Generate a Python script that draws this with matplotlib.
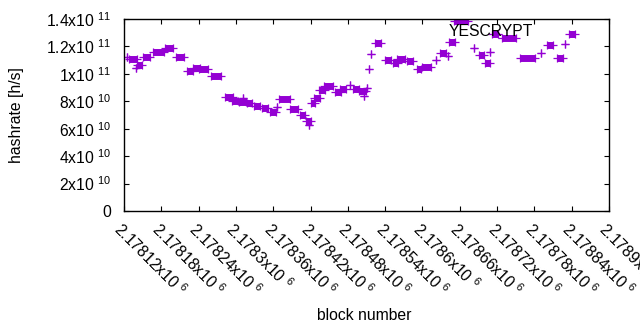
import matplotlib
matplotlib.use("Agg")
import matplotlib.pyplot as plt
from matplotlib.transforms import ScaledTranslation

plt.rcParams['font.family'] = ['Liberation Sans', 'DejaVu Sans']
plt.rcParams['mathtext.fontset'] = 'custom'
plt.rcParams['mathtext.rm'] = 'Liberation Sans'
plt.rcParams['mathtext.default'] = 'regular'

# segments of consecutive blocks sharing the same hashrate estimate
seg_start = [2178125, 2178128, 2178139, 2178141, 2178151, 2178167, 2178186, 2178204,
             2178222, 2178231, 2178241, 2178260, 2178283, 2178294, 2178305, 2178311,
             2178318, 2178329, 2178342, 2178355, 2178366, 2178370, 2178387, 2178403,
             2178413, 2178418, 2178420, 2178426, 2178434, 2178442, 2178460, 2178468,
             2178484, 2178489, 2178498, 2178506, 2178511, 2178514, 2178517, 2178524,
             2178540, 2178553, 2178559, 2178575, 2178591, 2178600, 2178622, 2178628,
             2178641, 2178643, 2178651, 2178683, 2178691, 2178701, 2178709, 2178712,
             2178728, 2178757, 2178791, 2178801, 2178817, 2178829, 2178836]
seg_end = [2178125, 2178141, 2178139, 2178149, 2178162, 2178184, 2178199, 2178216,
           2178231, 2178242, 2178255, 2178276, 2178295, 2178303, 2178316, 2178311,
           2178326, 2178339, 2178351, 2178364, 2178366, 2178387, 2178400, 2178411,
           2178420, 2178418, 2178427, 2178435, 2178443, 2178456, 2178469, 2178477,
           2178484, 2178498, 2178509, 2178506, 2178511, 2178514, 2178517, 2178533,
           2178549, 2178560, 2178572, 2178585, 2178597, 2178614, 2178622, 2178638,
           2178641, 2178652, 2178673, 2178683, 2178699, 2178708, 2178709, 2178721,
           2178750, 2178781, 2178791, 2178810, 2178826, 2178829, 2178845]
seg_value = [112.3e9, 110.8e9, 104.3e9, 106.5e9, 112.3e9, 115.9e9, 118.9e9, 112.3e9,
             102.1e9, 104.3e9, 103.5e9, 98.4e9, 83.1e9, 80.2e9, 79.5e9, 82.4e9,
             78.8e9, 76.6e9, 75.1e9, 72.2e9, 75.8e9, 81.7e9, 74.4e9, 70.0e9,
             65.6e9, 62.7e9, 78.8e9, 82.4e9, 88.2e9, 91.1e9, 86.8e9, 89.0e9,
             91.9e9, 89.0e9, 87.5e9, 83.9e9, 89.7e9, 103.5e9, 114.5e9, 122.5e9,
             110.1e9, 107.9e9, 110.8e9, 109.4e9, 103.5e9, 105.0e9, 110.1e9, 115.2e9,
             113.0e9, 123.2e9, 138.5e9, 118.9e9, 113.8e9, 107.9e9, 115.9e9, 129.1e9,
             126.1e9, 111.6e9, 115.2e9, 121.0e9, 111.6e9, 121.8e9, 129.1e9]

x_ticks = [2178120 + 60 * i for i in range(14)]
y_ticks = [0, 2e10, 4e10, 6e10, 8e10, 1e11, 1.2e11, 1.4e11]
y_tick_labels = ['0', r'2x10 $^{10}$', r'4x10 $^{10}$', r'6x10 $^{10}$', r'8x10 $^{10}$',
                 r'1x10 $^{11}$', r'1.2x10 $^{11}$', r'1.4x10 $^{11}$']
series_name = 'YESCRYPT'

color = '#9400D3'
fs = 11.3
fig = plt.figure(figsize=(6.4, 3.3), dpi=100)
ax = fig.add_axes([124 / 640, 1 - 211 / 330, (609 - 124) / 640, (211 - 19) / 330])

ax.hlines(seg_value, seg_start, seg_end, colors=color, linewidth=5.0, capstyle='butt')
ax.plot(seg_start, seg_value, '+', color=color, markersize=5.5, markeredgewidth=0.9, linestyle='none')
ax.plot(seg_end, seg_value, '+', color=color, markersize=5.5, markeredgewidth=0.9, linestyle='none')

ax.set_xlim(2178120, 2178900)
ax.set_ylim(0, 1.4e11)
ax.set_xticks(x_ticks)
ax.set_xticklabels([f'{t / 1e6:g}x10 $^{{6}}$' for t in x_ticks], rotation=-45,
                   ha='left', va='top', rotation_mode='anchor', fontsize=fs)
offset = ScaledTranslation(3 / 100, -1 / 100, fig.dpi_scale_trans)
for lab in ax.get_xticklabels():
    lab.set_transform(lab.get_transform() + offset)
ax.set_yticks(y_ticks)
ax.set_yticklabels(y_tick_labels, fontsize=fs)
ax.tick_params(direction='in', length=3.5, width=0.8, top=True, right=True)
ax.tick_params(axis='y', pad=9)
ax.tick_params(axis='x', pad=6)
for s in ax.spines.values():
    s.set_linewidth(1.0)

ax.text(533 / 640, 1 - 31 / 330, series_name, transform=fig.transFigure,
        ha='right', va='center', fontsize=fs)
fig.text(364 / 640, 1 - 316 / 330, 'block number', ha='center', va='center', fontsize=fs)
fig.text(17 / 640, 1 - 115 / 330, 'hashrate [h/s]', ha='center', va='center',
         rotation=90, fontsize=fs)

fig.savefig('out.png', dpi=100)
